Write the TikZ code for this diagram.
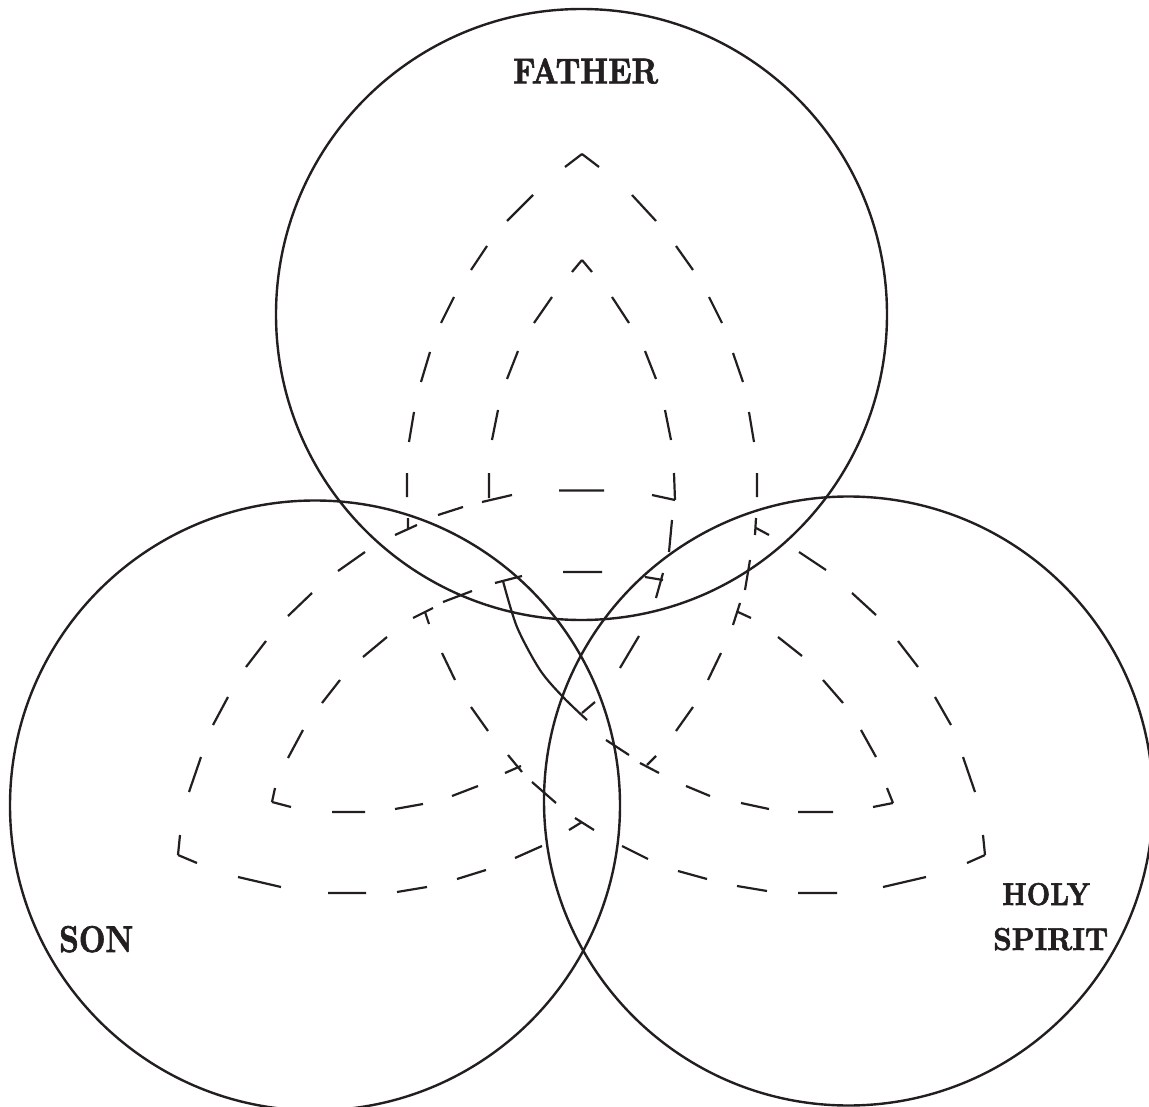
\documentclass[tikz,border=0pt]{standalone}
\usepackage{graphicx}
\usepackage{fontspec}
\newfontfamily\labfont{lmroman10-bold.otf}[FakeBold=2]
\definecolor{ink}{HTML}{231F20}
\begin{document}
\begin{tikzpicture}[x=1pt,y=-1pt,
  ring/.style={draw=ink,line width=2.4pt},
  dashseg/.style={draw=ink,line width=2.2pt,line cap=butt},
  solidseg/.style={draw=ink,line width=2.2pt},
  lbl/.style={inner sep=0pt,anchor=base west,text=ink,font=\labfont}]
\useasboundingbox (0,0) rectangle (1149,1107);
\clip (0,0) rectangle (1149,1107);
% circles
\coordinate (cF) at (581.5,314.5);
\coordinate (cS) at (315,805.5);
\coordinate (cH) at (848.5,801);
\draw[ring] (cF) circle[radius=305.5pt];
\draw[ring] (cS) circle[radius=305pt];
\draw[ring] (cH) circle[radius=304.5pt];
% outer arc: Father tip (left side) -> Holy Spirit tip
\draw[dashseg] (582,154)--(565,167) (533,195)--(507,221) (487,246)--(471,270)
  (454,297)--(441,323) (430,352)--(421,382) (414,412)--(409,442) (407,473)--(407,497)
  (408,518)--(408,528) (425,612)--(429,624) (442,653)--(455,680) (471,707)--(488,731)
  (508,755)--(522,772) (532,782)--(556,803) (575,818)--(594,830) (622,846)--(648,859)
  (678,871)--(707,879) (737,886)--(767,891) (798,893)--(837,893) (883,887)--(926,877)
  (967,863)--(985,855);
% outer arc: Father tip (right side) -> Son tip
\draw[dashseg] (582,154)--(599,167) (632,195)--(656,221) (676,246)--(693,270)
  (709,297)--(722,323) (733,353)--(743,382) (749,412)--(754,442) (757,473)--(757,497)
  (756,518)--(755,535) (750,560)--(745,590) (740,603)--(733,625) (721,653)--(708,680)
  (693,707)--(676,731) (656,756)--(647,765) (582,822)--(569,830) (542,846)--(515,858)
  (486,870)--(457,879) (427,887)--(397,892) (366,893)--(328,893) (281,887)--(238,877)
  (197,863)--(178,855);
% outer arc: Son tip -> Holy Spirit tip (upper)
\draw[dashseg] (178,855)--(180,835) (189,792)--(201,757) (213,725)--(228,697)
  (246,667)--(266,641) (288,616)--(312,593) (338,571)--(365,552) (395,535)--(417,525)
  (438,515)--(463,507) (482,502)--(512,495) (559,490.5)--(604,490.5) (652,495)--(675,500)
  (756,528)--(769,535) (799,552)--(826,570) (852,593)--(876,615) (898,641)--(918,667)
  (935,697)--(951,725) (963,757)--(975,792) (983,835)--(985,855);
% inner arc: Father tip (right side) -> Son tip
\draw[dashseg] (582,260)--(592,272) (612,297)--(629,323) (645,351)--(656,379)
  (665,410)--(671,440) (674,473)--(675,500) (672,520)--(669,552) (663,573)--(656,598)
  (639,636)--(620,668) (595,702)--(582,713) (521,766)--(505,773) (478,786)--(452,796)
  (423,804)--(395,809) (365,812)--(332,812) (291,807)--(272,802);
% inner arc: Father tip (left side) -> Holy Spirit tip
\draw[dashseg] (582,260)--(572,272) (552,297)--(534,323) (518,351)--(507,379)
  (498,410)--(492,440) (489,473)--(489,498)
  (606,740)--(629,755) (640,763)--(659,773) (686,786)--(710,796) (741,803)--(769,809)
  (798,812)--(833,812) (873,807)--(893,803);
\draw[solidseg] plot[smooth] coordinates {(503,581) (517,627) (540,670) (563,697) (587,720)};
% inner arc: Son tip -> Holy Spirit tip (upper)
\draw[dashseg] (272,802)--(275,788) (288,758)--(303,730) (322,703)--(340,680)
  (363,657)--(387,637) (413,618)--(433,608) (443,602)--(472,591) (495,583)--(522,576)
  (563,572)--(602,572) (645,577)--(663,580) (738,612)--(751,618) (778,637)--(802,656)
  (823,680)--(843,703) (861,730)--(876,757) (887,788)--(893,803);
% labels
\node[lbl] (father) at (513,83.3) {\resizebox{145pt}{25pt}{FATHER}};
\node[lbl] (son) at (59,952) {\resizebox{74pt}{26pt}{SON}};
\node[lbl] (holy) at (1002,905) {\resizebox{88pt}{22pt}{HOLY}};
\node[lbl] (spirit) at (993,950) {\resizebox{115pt}{22pt}{SPIRIT}};
\end{tikzpicture}
\end{document}
